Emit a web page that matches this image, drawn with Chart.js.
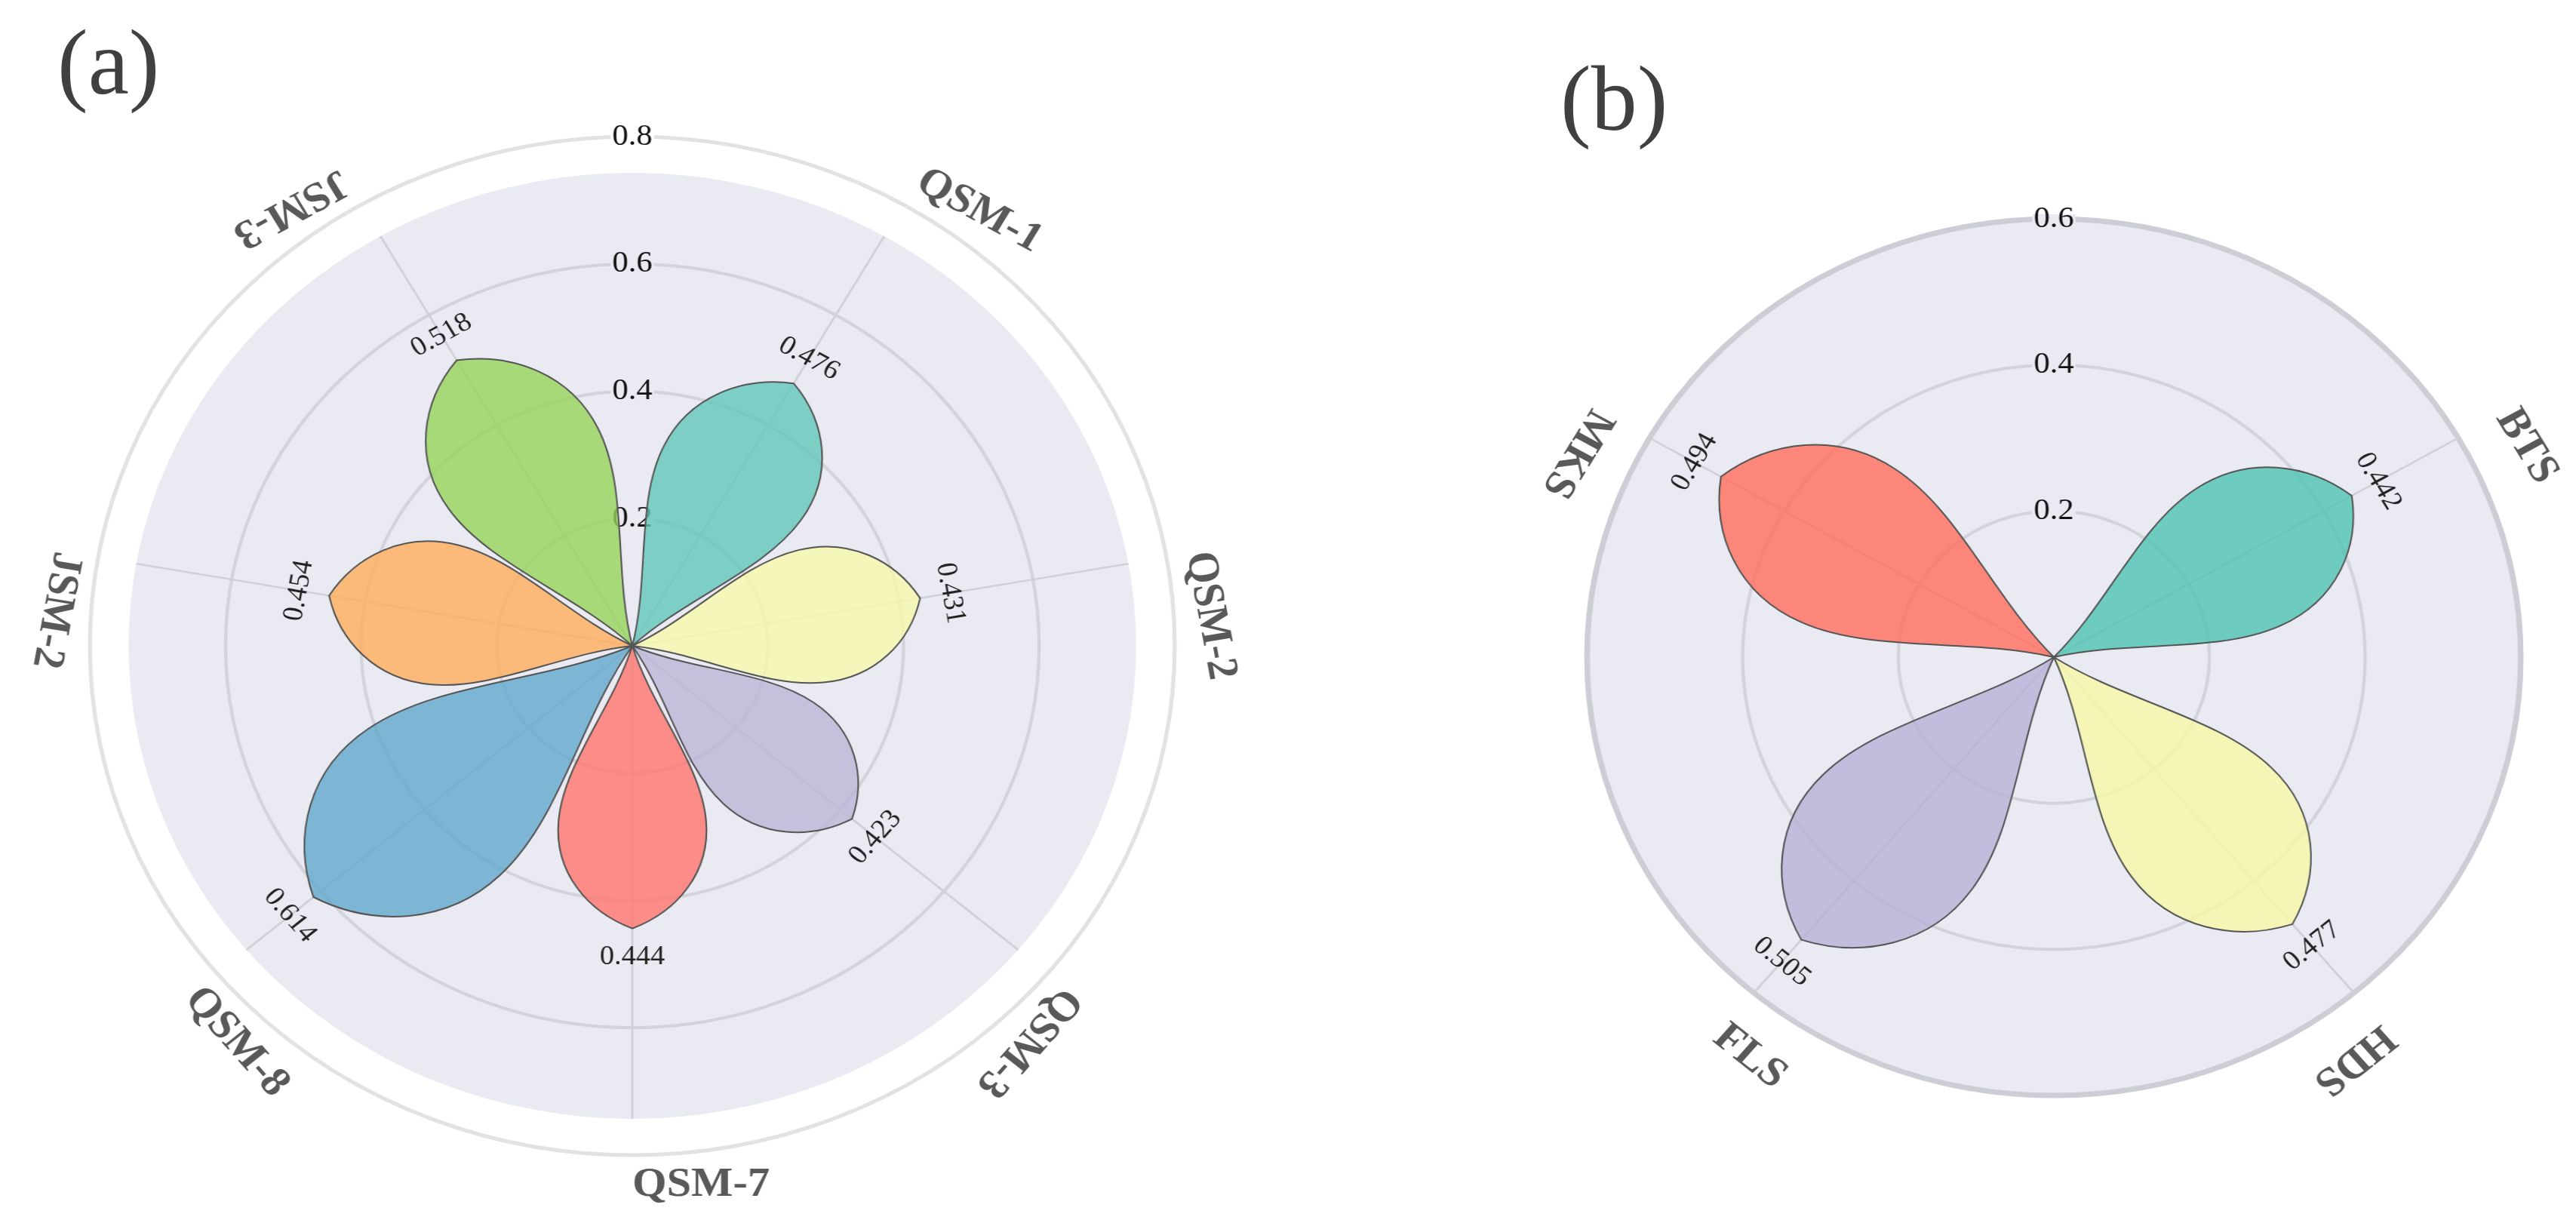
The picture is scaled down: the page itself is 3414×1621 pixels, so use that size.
<!DOCTYPE html>
<html><head><meta charset="utf-8">
<script src="https://cdn.jsdelivr.net/npm/chart.js@4.4.1/dist/chart.umd.min.js"></script>
<style>
html,body{margin:0;padding:0;background:#ffffff;width:3414px;height:1621px;overflow:hidden;position:relative}
.wrap{position:absolute}
.panel{position:absolute;font-family:"Liberation Serif",serif;color:#404040;font-size:122px;line-height:1}
</style></head><body>
<div class="panel" style="left:76px;top:22px">(a)</div>
<div class="panel" style="left:2068px;top:70px">(b)</div>
<div class="wrap" style="left:48px;top:66px;width:1580px;height:1580px;transform:scaleX(1.065);transform-origin:50% 50%"><canvas id="ca" width="1580" height="1580"></canvas></div>
<div class="wrap" style="left:2022px;top:171px;width:1400px;height:1400px;transform:scaleX(1.065);transform-origin:50% 50%"><canvas id="cb" width="1400" height="1400"></canvas></div>
<script>
// ---------- data ----------
const catsA = ['QSM-1','QSM-2','QSM-3','QSM-7','QSM-8','JSM-2','JSM-3'];
const valsA = [0.476, 0.431, 0.423, 0.444, 0.614, 0.454, 0.518];
const colorsA = ['#62c8ba','#f8f9ab','#bbb7d7','#ff746c','#62a8cc','#ffae5a','#97d45a'];
const ticksA = [0.2, 0.4, 0.6, 0.8];

const catsB = ['BTS','HDS','FLS','MKS'];
const valsB = [0.442, 0.477, 0.505, 0.494];
const colorsB = ['#4dc3b2','#f8f9a6','#b8b0d7','#ff6d5a'];
const ticksB = [0.2, 0.4, 0.6];

// ---------- helpers ----------
function petalPath(ctx, cx, cy, ang, L) {
  const ux = Math.cos(ang), uy = Math.sin(ang), vx = -uy, vy = ux;
  const P = (x, y) => [cx + L * (x * ux + y * vx), cy + L * (x * uy + y * vy)];
  const seg = (a, b, c) => { const p1 = P(a[0], a[1]), p2 = P(b[0], b[1]), p3 = P(c[0], c[1]);
    ctx.bezierCurveTo(p1[0], p1[1], p2[0], p2[1], p3[0], p3[1]); };
  ctx.beginPath();
  ctx.moveTo(cx, cy);
  seg([0.22, 0.065], [0.42, 0.23], [0.62, 0.245]);
  seg([0.80, 0.26], [0.94, 0.15], [1, 0]);
  seg([0.94, -0.15], [0.80, -0.26], [0.62, -0.245]);
  seg([0.42, -0.23], [0.22, -0.065], [0, 0]);
  ctx.closePath();
}
function hexA(hex, a) {
  const n = parseInt(hex.slice(1), 16);
  return 'rgba(' + (n >> 16 & 255) + ',' + (n >> 8 & 255) + ',' + (n & 255) + ',' + a + ')';
}
function degFromTop(rad) { let d = rad * 180 / Math.PI + 90; d = ((d % 360) + 360) % 360; return d; }

function makePlugin(o) {
  return {
    id: 'petals',
    beforeDraw(chart) {
      const s = chart.scales.r, ctx = chart.ctx;
      ctx.save();
      ctx.fillStyle = '#eaeaf2';
      ctx.beginPath();
      ctx.arc(s.xCenter, s.yCenter, s.getDistanceFromCenterForValue(o.bgValue), 0, Math.PI * 2);
      ctx.fill();
      ctx.restore();
    },
    beforeDatasetsDraw(chart) {
      const s = chart.scales.r, ctx = chart.ctx, meta = chart.getDatasetMeta(0);
      ctx.save();
      // spokes
      ctx.strokeStyle = '#cfcfd8';
      ctx.lineWidth = 2.5;
      const rs = s.getDistanceFromCenterForValue(o.spokeValue);
      meta.data.forEach(arc => {
        const p = arc.getProps(['startAngle', 'endAngle'], true);
        const m = (p.startAngle + p.endAngle) / 2;
        ctx.beginPath();
        ctx.moveTo(s.xCenter, s.yCenter);
        ctx.lineTo(s.xCenter + rs * Math.cos(m), s.yCenter + rs * Math.sin(m));
        ctx.stroke();
      });
      // tick labels along the top
      ctx.font = o.tickFont;
      ctx.textAlign = 'center';
      ctx.textBaseline = 'middle';
      s.ticks.forEach(t => {
        if (t.value <= 0) return;
        const d = s.getDistanceFromCenterForValue(t.value);
        const w = ctx.measureText(t.label).width;
        ctx.fillStyle = t.value <= o.bgValue ? '#eaeaf2' : '#ffffff';
        ctx.fillRect(s.xCenter - w / 2 - 2, s.yCenter - d - 6, w + 4, 12);
        ctx.fillStyle = '#111111';
        ctx.fillText(t.label, s.xCenter, s.yCenter - d);
      });
      ctx.restore();
    },
    afterDatasetsDraw(chart) {
      const s = chart.scales.r, ctx = chart.ctx, meta = chart.getDatasetMeta(0);
      const rOut = s.getDistanceFromCenterForValue(s.max);
      ctx.save();
      meta.data.forEach((arc, i) => {
        const p = arc.getProps(['x', 'y', 'startAngle', 'endAngle', 'outerRadius'], true);
        const m = (p.startAngle + p.endAngle) / 2;
        petalPath(ctx, p.x, p.y, m, p.outerRadius);
        ctx.fillStyle = hexA(o.colors[i], 0.8);
        ctx.fill();
        ctx.strokeStyle = '#555555';
        ctx.lineWidth = 2;
        ctx.stroke();
      });
      meta.data.forEach((arc, i) => {
        const p = arc.getProps(['x', 'y', 'startAngle', 'endAngle', 'outerRadius'], true);
        const m = (p.startAngle + p.endAngle) / 2;
        const th = degFromTop(m);
        // value label, centred on the spoke just beyond the petal tip
        let rot = (th <= 90 || th >= 270) ? th : th - 180;
        let r = p.outerRadius + o.valOffset;
        ctx.save();
        ctx.translate(p.x + r * Math.cos(m), p.y + r * Math.sin(m));
        ctx.rotate(rot * Math.PI / 180);
        ctx.font = o.valFont;
        ctx.fillStyle = '#222222';
        ctx.textAlign = 'center';
        ctx.textBaseline = 'middle';
        ctx.fillText(o.values[i].toFixed(3), 0, 0);
        ctx.restore();
        // category label, text starting at the spoke
        rot = th < 180 ? th : th - 180;
        r = rOut + o.catOffset;
        ctx.save();
        ctx.translate(p.x + r * Math.cos(m), p.y + r * Math.sin(m));
        ctx.rotate(rot * Math.PI / 180);
        ctx.font = o.catFont;
        ctx.fillStyle = '#595959';
        ctx.textAlign = 'left';
        ctx.textBaseline = 'middle';
        ctx.fillText(o.cats[i], 0, 0);
        ctx.restore();
      });
      ctx.restore();
    }
  };
}

function build(id, cats, vals, colors, ticks, sector, start, pad, opts) {
  return new Chart(document.getElementById(id), {
    type: 'polarArea',
    data: {
      labels: cats,
      datasets: [{ data: vals, angle: sector, backgroundColor: 'rgba(0,0,0,0)', borderWidth: 0 }]
    },
    options: {
      responsive: false,
      devicePixelRatio: 1,
      animation: false,
      layout: { padding: pad },
      plugins: { legend: { display: false }, tooltip: { enabled: false } },
      scales: {
        r: {
          min: 0,
          max: ticks[ticks.length - 1],
          startAngle: start,
          afterBuildTicks: (sc) => { sc.ticks = [0].concat(ticks).map(v => ({ value: v })); },
          ticks: { display: false },
          grid: {
            circular: true,
            color: (c) => c.tick && c.tick.value === ticks[ticks.length - 1] ? opts.outerColor : '#d3d3db',
            lineWidth: (c) => c.tick && c.tick.value === ticks[ticks.length - 1] ? opts.outerWidth : 4
          },
          angleLines: { display: false },
          pointLabels: { display: false }
        }
      }
    },
    plugins: [makePlugin(Object.assign({ cats: cats, values: vals, colors: colors }, opts))]
  });
}

build('ca', catsA, valsA, colorsA, ticksA, 50, 5, 115, {
  bgValue: 0.743, spokeValue: 0.743, outerColor: '#e2e2e4', outerWidth: 5,
  tickFont: '40px "Liberation Serif"', valFont: '36px "Liberation Serif"', catFont: 'bold 55px "Liberation Serif"',
  valOffset: 38, catOffset: 40
});
build('cb', catsB, valsB, colorsB, ticksB, 80, 20, 119, {
  bgValue: 0.6, spokeValue: 0.6, outerColor: '#cdcdd5', outerWidth: 7,
  tickFont: '40px "Liberation Serif"', valFont: '36px "Liberation Serif"', catFont: 'bold 55px "Liberation Serif"',
  valOffset: 38, catOffset: 68
});
</script>
</body></html>
